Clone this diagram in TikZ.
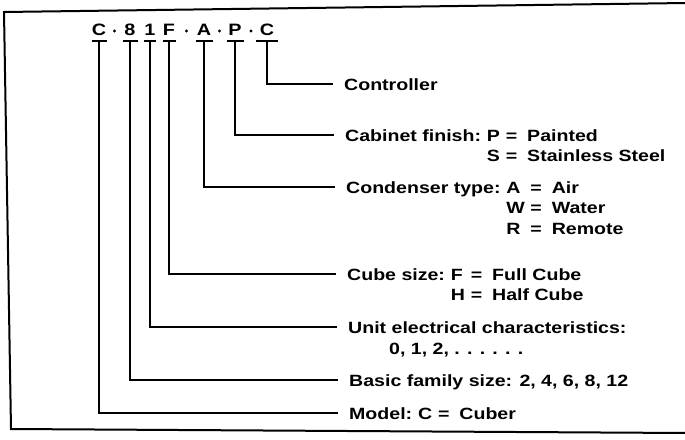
\documentclass[tikz,border=0pt]{standalone}
\usepackage{fontspec}
\setmainfont{Liberation Sans}[FakeStretch=1.2]
\newcommand\eqv[3]{\makebox[#1][l]{#2}=\hspace{10pt}#3}
\begin{document}
\begin{tikzpicture}[x=1pt,y=-1pt,
  lbl/.style={font=\fontsize{16.3}{20}\selectfont\bfseries, inner sep=0pt, anchor=base west},
  codel/.style={font=\fontsize{16.5}{20}\selectfont\bfseries, inner sep=0pt, anchor=base},
  dotn/.style={circle, fill=black, inner sep=0pt, minimum size=3.4pt},
  conn/.style={line width=1.6pt},
  framel/.style={line width=2pt}]
\useasboundingbox (0,0) rectangle (685,439);
\draw[framel] (686,3) -- (4,12) -- (11,429) -- (686,433);

% code letters
\node[codel] (kC) at (99,35) {C};
\node[dotn] (d1) at (114.5,31) {};
\node[codel] (k8) at (130,35) {8};
\node[codel] (k1) at (150,35) {1};
\node[codel] (kF) at (169,35) {F};
\node[dotn] (d2) at (186.5,31) {};
\node[codel] (kA) at (204,35) {A};
\node[dotn] (d3) at (219.5,31) {};
\node[codel] (kP) at (235,35) {P};
\node[dotn] (d4) at (251,31) {};
\node[codel] (kC2) at (267,35) {C};

% underline centres
\coordinate (uC) at (99,41);
\coordinate (u8) at (130,41);
\coordinate (u1) at (150,41);
\coordinate (uF) at (169,41);
\coordinate (uA) at (204,41);
\coordinate (uP) at (235,41);
\coordinate (uC2) at (267,41);
\draw[conn] ([xshift=-7.5pt]uC) -- ([xshift=7.5pt]uC);
\draw[conn] ([xshift=-7.5pt]u8) -- ([xshift=7.5pt]u8);
\draw[conn] ([xshift=-6pt]u1) -- ([xshift=6pt]u1);
\draw[conn] ([xshift=-6.5pt]uF) -- ([xshift=6.5pt]uF);
\draw[conn] ([xshift=-8.5pt]uA) -- ([xshift=8.5pt]uA);
\draw[conn] ([xshift=-8.5pt]uP) -- ([xshift=8.5pt]uP);
\draw[conn] ([xshift=-11pt]uC2) -- ([xshift=11pt]uC2);

% line ends
\coordinate (eCtl) at (333,84);
\coordinate (eCab) at (334,135);
\coordinate (eCon) at (335,187);
\coordinate (eCub) at (336,274);
\coordinate (eUni) at (337,327);
\coordinate (eBas) at (338,380);
\coordinate (eMod) at (338,413);

% labels
\node[lbl] (ctl) at (344,90) {Controller};

\node[lbl] (cab) at (345,141) {Cabinet finish:};
\node[lbl] (cabP) at ([xshift=5.4pt]cab.base east) {\eqv{19pt}{P}{Painted}};
\node[lbl] (cabS) at ([yshift=-20pt]cabP.base west) {\eqv{19pt}{S}{Stainless Steel}};

\node[lbl] (con) at (346,193) {Condenser type:};
\node[lbl] (conA) at ([xshift=5.4pt]con.base east) {\eqv{24pt}{A}{Air}};
\node[lbl] (conW) at ([yshift=-20.5pt]conA.base west) {\eqv{24pt}{W}{Water}};
\node[lbl] (conR) at ([yshift=-41pt]conA.base west) {\eqv{24pt}{R}{Remote}};

\node[lbl] (cub) at (347,280) {Cube size:};
\node[lbl] (cubF) at ([xshift=5.4pt]cub.base east) {\eqv{20pt}{F}{Full Cube}};
\node[lbl] (cubH) at ([yshift=-20.5pt]cubF.base west) {\eqv{20pt}{H}{Half Cube}};

\node[lbl] (uni) at (348,333) {Unit electrical characteristics:};
\node[lbl] (uni2) at ([xshift=41pt,yshift=-21pt]uni.base west) {0, 1, 2, . . . . . .};

\node[lbl] (bas) at (349,386) {Basic family size: 2, 4, 6, 8, 12};

\node[lbl] (mod) at (349,419) {Model:};
\node[lbl] (modC) at ([xshift=5.4pt]mod.base east) {\eqv{20pt}{C}{Cuber}};

% connectors
\draw[conn] (uC2) |- (eCtl);
\draw[conn] (uP) |- (eCab);
\draw[conn] (uA) |- (eCon);
\draw[conn] (uF) |- (eCub);
\draw[conn] (u1) |- (eUni);
\draw[conn] (u8) |- (eBas);
\draw[conn] (uC) |- (eMod);
\end{tikzpicture}
\end{document}
